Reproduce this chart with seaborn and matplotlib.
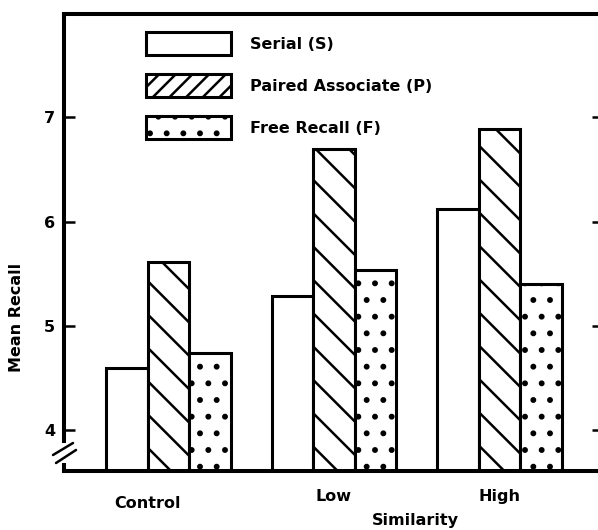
import numpy as np
import pandas as pd
import matplotlib
matplotlib.use("Agg")
import matplotlib.pyplot as plt
from matplotlib.patches import Patch
from matplotlib.transforms import ScaledTranslation
import seaborn as sns

# values
similarity = ['Control', 'Low', 'High']
tasks = ['Serial (S)', 'Paired Associate (P)', 'Free Recall (F)']
serial = [4.60, 5.29, 6.12]
paired = [5.61, 6.70, 6.89]
free_recall = [4.74, 5.54, 5.40]
y_ticks = [4, 5, 6, 7]

df = pd.DataFrame({
    'Similarity': similarity * 3,
    'Task': np.repeat(tasks, 3),
    'Mean Recall': serial + paired + free_recall,
})

sns.set_style('white')
plt.rcParams['font.family'] = ['DejaVu Sans']
plt.rcParams['font.weight'] = 'bold'
plt.rcParams['text.color'] = 'black'
plt.rcParams['axes.labelcolor'] = 'black'
plt.rcParams['hatch.linewidth'] = 1.8
plt.rcParams['hatch.color'] = 'black'

fs = 11.5
fig = plt.figure(figsize=(5.98, 5.30), dpi=100)
ax = fig.add_axes([64 / 598, 59 / 530, 539 / 598, 457 / 530])

sns.barplot(data=df, x='Similarity', y='Mean Recall', hue='Task',
            order=similarity, hue_order=tasks,
            palette=['white'] * 3, edgecolor='black', linewidth=2.2,
            width=0.75, gap=0, errorbar=None, legend=False, ax=ax)

hatches = ['', '\\', '.']
for cont, h in zip(ax.containers, hatches):
    for bar in cont:
        bar.set_hatch(h)

ax.set_ylim(3.61, 7.99)
ax.set_xlim(-0.631, 2.625)
ax.set_yticks(y_ticks)
ax.set_yticklabels([str(t) for t in y_ticks])

for side in ['left', 'bottom', 'top']:
    ax.spines[side].set_linewidth(2.9)
    ax.spines[side].set_color('black')
ax.spines['right'].set_visible(False)
ax.spines['left'].set_bounds(3.9, 7.99)

# broken axis: short stub and the two slashes
ax.plot([0, 0], [0, 0.018], transform=ax.transAxes, color='black',
        lw=2.9, clip_on=False, solid_capstyle='butt')
ax.plot([-0.0204, 0.0167], [0.035, 0.0613], transform=ax.transAxes,
        color='black', lw=1.8, clip_on=False)
ax.plot([-0.0148, 0.0223], [0.0175, 0.046], transform=ax.transAxes,
        color='black', lw=1.8, clip_on=False)

ax.tick_params(axis='y', direction='in', length=8, width=1.8,
               left=True, right=True, labelsize=fs, pad=6.4, colors='black')
ax.tick_params(axis='x', length=0, labelsize=fs, pad=13, colors='black')

# "Control" sits a little left and lower in the original
lbl = ax.get_xticklabels()[0]
lbl.set_transform(lbl.get_transform() +
                  ScaledTranslation(-21 / 100, -7 / 100, fig.dpi_scale_trans))

ax.set_ylabel('Mean Recall', fontsize=fs, fontweight='bold')
ax.yaxis.set_label_coords(-0.089, 0.335)
ax.yaxis.label.set_verticalalignment('center')
ax.set_xlabel('Similarity', fontsize=fs, fontweight='bold')
ax.xaxis.set_label_coords(0.651, -0.092)

handles = [Patch(facecolor='white', edgecolor='black', linewidth=2.2, hatch=h)
           for h in ['', '//', '.']]
ax.legend(handles, tasks, loc='upper left',
          bbox_to_anchor=(146 / 598, 1 - 32 / 530), bbox_transform=fig.transFigure,
          frameon=False, borderpad=0, borderaxespad=0, fontsize=fs,
          handlelength=5.31, handleheight=1.835, handletextpad=1.19,
          labelspacing=1.19, labelcolor='black')

fig.savefig('out.png', dpi=100)
plt.close(fig)
